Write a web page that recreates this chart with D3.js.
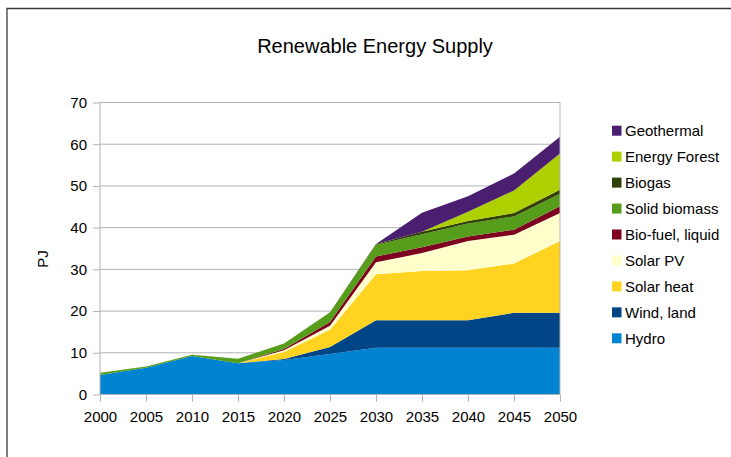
<!DOCTYPE html>
<html><head><meta charset="utf-8">
<script src="https://cdn.jsdelivr.net/npm/d3@7"></script>
<style>body{margin:0;background:#fff}svg{display:block;font-family:"Liberation Sans",Arial,sans-serif}</style>
</head><body>
<svg id="c" width="731" height="457"></svg>
<script>
const years = [2000,2005,2010,2015,2020,2025,2030,2035,2040,2045,2050];
const hydro        = [4.7,6.4,9.2,7.5,8.3,9.7,11.2,11.2,11.2,11.2,11.2];
const windLand     = [0,0,0,0,0.2,1.7,6.6,6.6,6.6,8.4,8.4];
const solarHeat    = [0,0,0,0,1.7,4.1,11.0,11.8,12.0,11.8,17.2];
const solarPV      = [0,0,0,0,0.4,1.0,2.9,4.3,7.0,6.9,6.7];
const bioFuel      = [0,0,0,0,0.3,0.9,1.4,1.4,1.1,1.2,1.6];
const solidBiomass = [0.5,0.3,0.3,1.1,1.3,2.3,2.8,3.1,3.1,3.2,3.0];
const biogas       = [0,0,0,0,0,0,0.2,0.6,0.6,0.8,1.0];
const energyForest = [0,0,0,0,0,0,0,0,2.2,5.4,8.7];
const geothermal   = [0,0,0,0,0,0,0,4.6,3.7,4.1,4.0];
const seriesNames  = ["Hydro","Wind, land","Solar heat","Solar PV","Bio-fuel, liquid","Solid biomass","Biogas","Energy Forest","Geothermal"];
const seriesValues = [hydro,windLand,solarHeat,solarPV,bioFuel,solidBiomass,biogas,energyForest,geothermal];
const colors       = ["#0084d1","#004586","#ffd320","#ffffcc","#7e0021","#579d1c","#314004","#aecf00","#4b1f6f"];
const yTicks = [0,10,20,30,40,50,60,70];

const svg = d3.select("#c");
// outer frame
svg.append("path").attr("d","M7,460 L7,8.5 L740,8.5").attr("fill","none").attr("stroke","#3a3a3a").attr("stroke-width",1.3);

const x = d3.scaleLinear().domain([2000,2050]).range([100,560]);
const y = d3.scaleLinear().domain([0,70]).range([394.5,102.5]);

const table = years.map((yr,i)=>{const o={year:yr};seriesNames.forEach((n,k)=>o[n]=seriesValues[k][i]);return o;});
const stacked = d3.stack().keys(seriesNames)(table);

// gridlines
svg.append("g").selectAll("line").data(yTicks).join("line")
  .attr("x1",100).attr("x2",560).attr("y1",d=>y(d)).attr("y2",d=>y(d))
  .attr("stroke","#b3b3b3").attr("stroke-width",1);

const area = d3.area().x(d=>x(d.data.year)).y0(d=>y(d[0])).y1(d=>y(d[1]));
svg.append("g").selectAll("path").data(stacked).join("path")
  .attr("d",area).attr("fill",(d,i)=>colors[i]);

// plot border right
svg.append("line").attr("x1",560).attr("x2",560).attr("y1",102.5).attr("y2",394.5).attr("stroke","#b3b3b3");

// axes
const yAxis = svg.append("g").attr("transform","translate(100,0)")
  .call(d3.axisLeft(y).tickValues(yTicks).tickSize(7).tickPadding(6).tickFormat(d3.format("d")));
const xAxis = svg.append("g").attr("transform","translate(0,394.5)")
  .call(d3.axisBottom(x).tickValues(years).tickSize(7).tickPadding(10).tickFormat(d3.format("d")));
[yAxis,xAxis].forEach(a=>{
  a.select(".domain").attr("stroke","#b3b3b3");
  a.selectAll(".tick line").attr("stroke","#b3b3b3");
  a.selectAll("text").attr("font-size",15).attr("fill","#000").attr("font-family","Liberation Sans, Arial, sans-serif");
});
yAxis.select(".domain").attr("d","M0,394.5V102.5");
xAxis.select(".domain").attr("d","M100,0H560");

// title
svg.append("text").attr("x",375).attr("y",53).attr("text-anchor","middle")
  .attr("font-size",20).text("Renewable Energy Supply");
// y label
svg.append("text").attr("transform","translate(48,259) rotate(-90)").attr("text-anchor","middle")
  .attr("font-size",15).text("PJ");

// legend
const legendOrder = seriesNames.map((n,i)=>({n,c:colors[i]})).reverse();
const lg = svg.append("g").selectAll("g").data(legendOrder).join("g")
  .attr("transform",(d,i)=>`translate(612,${130.7+i*25.95})`);
lg.append("rect").attr("x",0).attr("y",-5).attr("width",9.5).attr("height",10).attr("fill",d=>d.c);
lg.append("text").attr("x",13).attr("y",5.5).attr("font-size",15).text(d=>d.n);
</script>
</body></html>
